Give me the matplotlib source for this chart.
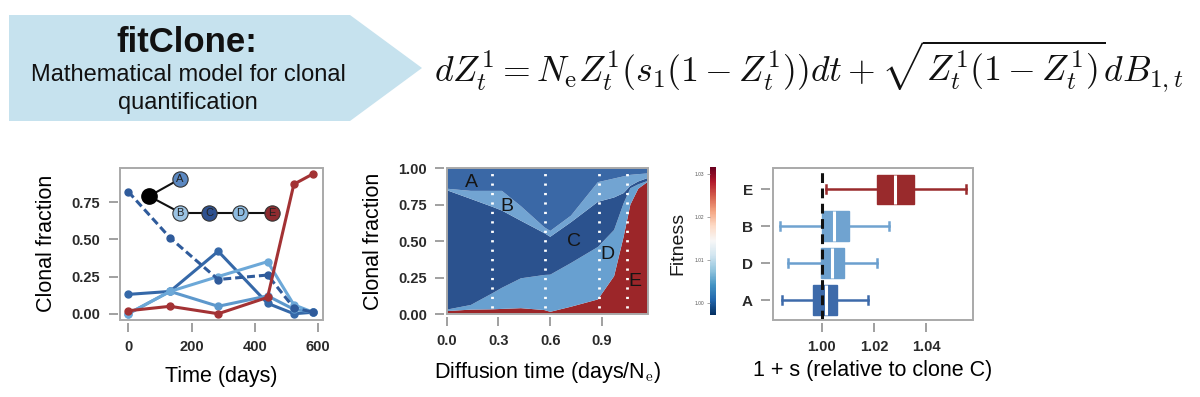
import numpy as np
import matplotlib
matplotlib.use('Agg')
import matplotlib.pyplot as plt
from matplotlib.patches import Polygon, Rectangle
from matplotlib.colors import Normalize
from matplotlib.cm import ScalarMappable

plt.rcParams.update({
    'font.family': ['Liberation Sans', 'DejaVu Sans'],
    'mathtext.fontset': 'cm',
    'text.color': '#1a1a1a',
})

# ---- datos del panel izquierdo (fracciones clonales en el tiempo) ----
days = np.array([0, 132, 284, 440, 523, 584])
frac_A = [0.13, 0.15, 0.42, 0.07, 0.00, 0.01]
frac_B = [0.00, 0.15, 0.05, 0.12, 0.03, 0.01]
frac_C = [0.82, 0.51, 0.23, 0.26, 0.04, 0.01]
frac_D = [0.00, 0.15, 0.25, 0.35, 0.06, 0.01]
frac_E = [0.02, 0.05, 0.00, 0.11, 0.87, 0.94]

# arbol filogenetico (inset)
tree_labels = ['A', 'B', 'C', 'D', 'E']
tree_x = [163, 163, 256, 353, 453]
tree_y = [0.905, 0.68, 0.68, 0.68, 0.68]
root_xy = (66, 0.79)

# ---- datos del panel central (fracciones inferidas, tiempo de difusion) ----
diff_time = [0.0, 0.14, 0.264, 0.32, 0.43, 0.566, 0.60, 0.72, 0.876, 0.97, 1.025, 1.064, 1.11, 1.168]
inf_E = [0.02, 0.03, 0.032, 0.035, 0.04, 0.027, 0.015, 0.05, 0.10, 0.26, 0.53, 0.75, 0.86, 0.91]
inf_D = [0.01, 0.032, 0.11, 0.145, 0.205, 0.241, 0.255, 0.30, 0.36, 0.317, 0.23, 0.113, 0.03, 0.005]
inf_C = [0.82, 0.728, 0.594, 0.53, 0.395, 0.287, 0.26, 0.28, 0.31, 0.223, 0.07, 0.017, 0.02, 0.02]
inf_B = [0.01, 0.055, 0.109, 0.135, 0.10, 0.04, 0.04, 0.045, 0.135, 0.13, 0.115, 0.075, 0.05, 0.03]
inf_A = [0.14, 0.155, 0.155, 0.155, 0.26, 0.405, 0.43, 0.325, 0.095, 0.07, 0.055, 0.045, 0.04, 0.035]
Ne = 500

# ---- datos del panel derecho (fitness relativo a C) ----
box_labels = ['A', 'D', 'B', 'E']
whis_lo = [0.9847, 0.9872, 0.9840, 1.0015]
q1 = [0.9968, 0.9997, 1.0002, 1.0213]
med = [1.0015, 1.0038, 1.0048, 1.0281]
q3 = [1.0057, 1.0085, 1.0106, 1.0354]
whis_hi = [1.0179, 1.0211, 1.0259, 1.0552]

col = {'A': '#3a68a6', 'B': '#72a4d2', 'C': '#2b528e', 'D': '#68a0d0', 'E': '#9c2629'}
line_col = {'A': '#3568a8', 'B': '#5d98cc', 'C': '#2f5b9b', 'D': '#6ca8d8', 'E': '#a33234'}
node_col = {'A': '#5b88c1', 'B': '#9bc3e3', 'C': '#2e5190', 'D': '#8dbbe0', 'E': '#8f2b2f'}
box_col = {'A': '#3d6aaa', 'D': '#6b9fce', 'B': '#70a3d0', 'E': '#992a2c'}

W, H = 1200, 397
fig = plt.figure(figsize=(12, 3.97), dpi=100)


def px_rect(x0, y0, x1, y1):
    return [x0 / W, 1 - y1 / H, (x1 - x0) / W, (y1 - y0) / H]


def estilo(ax):
    for s in ax.spines.values():
        s.set_visible(False)
    ax.spines['left'].set_position(('outward', 1.8))
    ax.spines['bottom'].set_position(('outward', 2.0))
    ax.add_patch(Rectangle((0, 0), 1, 1, transform=ax.transAxes, fill=False,
                           ec='#a9a9a9', lw=1.4, clip_on=False, zorder=10))
    ax.tick_params(length=6.5, width=1.4, color='#a0a0a0', pad=6,
                   labelsize=10.5, labelcolor='#2a2a2a')
    for lb in ax.get_xticklabels() + ax.get_yticklabels():
        lb.set_fontweight('bold')


# ---- banner ----
banner = [(9, 15), (350, 15), (422, 68), (350, 121), (9, 121)]
fig.patches.append(Polygon([(x / W, 1 - y / H) for x, y in banner], closed=True,
                           transform=fig.transFigure, fc='#c6e2ee', ec='none'))
fig.text(187 / W, 1 - 42 / H, 'fitClone:', fontsize=25, fontweight='bold',
         ha='center', va='center', color='#111111')
fig.text(188 / W, 1 - 75 / H, 'Mathematical model for clonal', fontsize=17,
         ha='center', va='center', color='#111111')
fig.text(188 / W, 1 - 103 / H, 'quantification', fontsize=17,
         ha='center', va='center', color='#111111')
formula = fig.text(434 / W, 1 - 66 / H,
                   r'$dZ_t^1 = N_\mathrm{e}Z_t^1(s_1(1 - Z_t^1))dt'
                   r' + \sqrt{Z_t^1(1 - Z_t^1)}dB_{1,t}$',
                   fontsize=29, ha='left', va='center', color='#111111')
# ajustar el tamano para que ocupe el mismo ancho que en la figura original
fig.canvas.draw()
ancho = formula.get_window_extent().width
formula.set_fontsize(29 * 738 / ancho)

# ---- panel izquierdo ----
ax1 = fig.add_axes(px_rect(120, 167.7, 323, 320))
series = [('A', frac_A, '-'), ('B', frac_B, '-'), ('D', frac_D, '-'),
          ('C', frac_C, (0, (2.6, 1.3))), ('E', frac_E, '-')]
for name, vals, ls in series:
    ax1.plot(days, vals, ls=ls, color=line_col[name], lw=2.2, marker='o',
             ms=5, zorder=3)
# arbol
for k in range(2):
    ax1.plot([root_xy[0], tree_x[k]], [root_xy[1], tree_y[k]], color='#111111', lw=1.5, zorder=4)
ax1.plot(tree_x[1:], tree_y[1:], color='#111111', lw=1.5, zorder=4)
ax1.plot(*root_xy, 'o', color='black', ms=11, zorder=5)
for lab, x, y in zip(tree_labels, tree_x, tree_y):
    ax1.plot(x, y, 'o', ms=11, mfc=node_col[lab], mec='#333333', mew=0.8, zorder=5)
    ax1.text(x, y, lab, ha='center', va='center', fontsize=8, color='#222222', zorder=6)
ax1.set_xlim(-26, 615)
ax1.set_ylim(-0.042, 0.981)
ax1.set_xticks([0, 200, 400, 600])
ax1.set_yticks([0, 0.25, 0.5, 0.75])
ax1.set_yticklabels(['0.00', '0.25', '0.50', '0.75'])
estilo(ax1)
ax1.set_xlabel('Time (days)', fontsize=15.5)
ax1.set_ylabel('Clonal fraction', fontsize=15.5)
ax1.xaxis.set_label_coords(0.5, -0.30)
ax1.yaxis.set_label_coords(-0.31, 0.5)

# ---- panel central ----
ax2 = fig.add_axes(px_rect(446.7, 168.3, 648.3, 314))
ax2.stackplot(diff_time, inf_E, inf_D, inf_C, inf_B, inf_A,
              colors=[col['E'], col['D'], col['C'], col['B'], col['A']],
              edgecolor='none', lw=0)
for t in days[1:-1] / Ne:
    ax2.plot([t, t], [0.04, 0.98], color='white', lw=2, ls=(0, (0.8, 2.6)), zorder=4)
stack_lbl = [('A', 0.145, 0.905), ('B', 0.35, 0.74), ('C', 0.736, 0.50),
             ('D', 0.93, 0.41), ('E', 1.092, 0.225)]
for lab, x, y in stack_lbl:
    ax2.text(x, y, lab, fontsize=14, ha='center', va='center', color='#151515', zorder=5)
ax2.set_xlim(0, 1.168)
ax2.set_ylim(0, 1.0)
ax2.set_xticks([0, 0.3, 0.6, 0.9])
ax2.set_xticklabels(['0.0', '0.3', '0.6', '0.9'])
ax2.set_yticks([0, 0.25, 0.5, 0.75, 1.0])
ax2.set_yticklabels(['0.00', '0.25', '0.50', '0.75', '1.00'])
estilo(ax2)
ax2.set_xlabel(r'Diffusion time (days/N$_\mathrm{e}$)', fontsize=15.5)
ax2.set_ylabel('Clonal fraction', fontsize=15.5)
ax2.xaxis.set_label_coords(0.5, -0.315)
ax2.yaxis.set_label_coords(-0.313, 0.5)

# ---- barra de color ----
cax = fig.add_axes(px_rect(710, 166.7, 715.5, 315))
sm = ScalarMappable(norm=Normalize(0.9971, 1.0318), cmap='RdBu_r')
cb = fig.colorbar(sm, cax=cax)
cb.outline.set_visible(False)
cax.yaxis.set_ticks_position('left')
cb.set_ticks([1.00, 1.01, 1.02, 1.03])
cb.set_ticklabels(['1.00', '1.01', '1.02', '1.03'])
cax.tick_params(labelsize=3.5, length=2, width=0.6, color='#999999', labelcolor='#555555', pad=2)
fig.text(678 / W, 1 - 243 / H, 'Fitness', rotation=90, fontsize=14,
         ha='center', va='center')

# ---- panel derecho ----
ax3 = fig.add_axes(px_rect(772.7, 168.3, 973.3, 320))
pos = np.arange(1, len(box_labels) + 1)
stats = [dict(whislo=a, q1=b, med=c, q3=d, whishi=e, label=l)
         for a, b, c, d, e, l in zip(whis_lo, q1, med, q3, whis_hi, box_labels)]
bp = ax3.bxp(stats, positions=pos, vert=False, widths=0.8, patch_artist=True,
             showfliers=False)
for k, lab in enumerate(box_labels):
    c = box_col[lab]
    bp['boxes'][k].set(facecolor=c, edgecolor=c, lw=1)
    bp['medians'][k].set(color='white', lw=2.2)
    for w in bp['whiskers'][2 * k:2 * k + 2]:
        w.set(color=c, lw=1.8)
    for cp in bp['caps'][2 * k:2 * k + 2]:
        cp.set(color=c, lw=1.8)
        cp.set_ydata([pos[k] - 0.11, pos[k] + 0.11])
ax3.axvline(1.0, color='#111111', lw=2.2, ls=(0, (3.2, 1.8)), zorder=6)
ax3.set_xlim(0.9812, 1.0581)
ax3.set_ylim(0.458, 4.57)
ax3.set_xticks([1.00, 1.02, 1.04])
ax3.set_xticklabels(['1.00', '1.02', '1.04'])
ax3.set_yticks(pos)
ax3.set_yticklabels(box_labels)
estilo(ax3)
ax3.tick_params(axis='y', labelsize=11)
ax3.set_xlabel('1 + s (relative to clone C)', fontsize=15.5)
ax3.xaxis.set_label_coords(0.5, -0.265)

fig.savefig('out.png', dpi=100)
